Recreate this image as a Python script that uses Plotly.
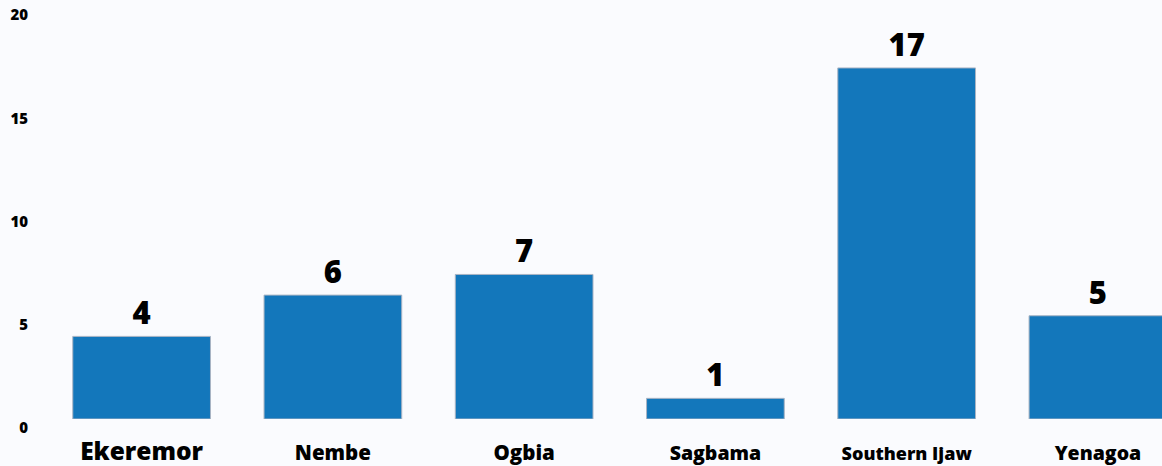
import plotly.graph_objects as go

# Incidents per local government area
lgas = ["Ekeremor", "Nembe", "Ogbia", "Sagbama", "Southern Ijaw", "Yenagoa"]
counts = [4, 6, 7, 1, 17, 5]
y_ticks = [0, 5, 10, 15, 20]

# per-label font sizes for the category names
label_sizes = [24.5, 20.5, 20.5, 19.5, 18, 19.5]

FONT = "Open Sans"
BG = "#FAFBFE"

fig = go.Figure(
    go.Bar(
        x=lgas,
        y=counts,
        text=[str(c) for c in counts],
        textposition="outside",
        textfont=dict(family=FONT, size=31, color="#000000", weight=800),
        cliponaxis=False,
        marker=dict(color="#1377BB", line=dict(color="#A9B4C4", width=1)),
        width=0.72,
    )
)

ticktext = [
    f'<span style="font-size:{s}px">{name}</span>' for name, s in zip(lgas, label_sizes)
]

fig.update_layout(
    width=1162,
    height=466,
    margin=dict(l=46, r=0, t=6, b=47),
    paper_bgcolor=BG,
    plot_bgcolor=BG,
    showlegend=False,
    font=dict(family=FONT, color="#000000"),
    xaxis=dict(
        range=[-0.5, 5.335],
        tickmode="array",
        tickvals=list(range(len(lgas))),
        ticktext=ticktext,
        tickfont=dict(family=FONT, size=20, color="#000000", weight=800),
        showgrid=False,
        zeroline=False,
        showline=False,
        ticks="",
        ticklabelstandoff=20,
    ),
    yaxis=dict(
        range=[0, 20],
        tickmode="array",
        tickvals=y_ticks,
        ticktext=[str(v) for v in y_ticks],
        tickfont=dict(family=FONT, size=15, color="#000000", weight=800),
        showgrid=False,
        zeroline=False,
        showline=False,
        ticks="",
        ticklabelshift=9,
        ticklabelstandoff=17,
    ),
)

fig.write_html("out.html")
